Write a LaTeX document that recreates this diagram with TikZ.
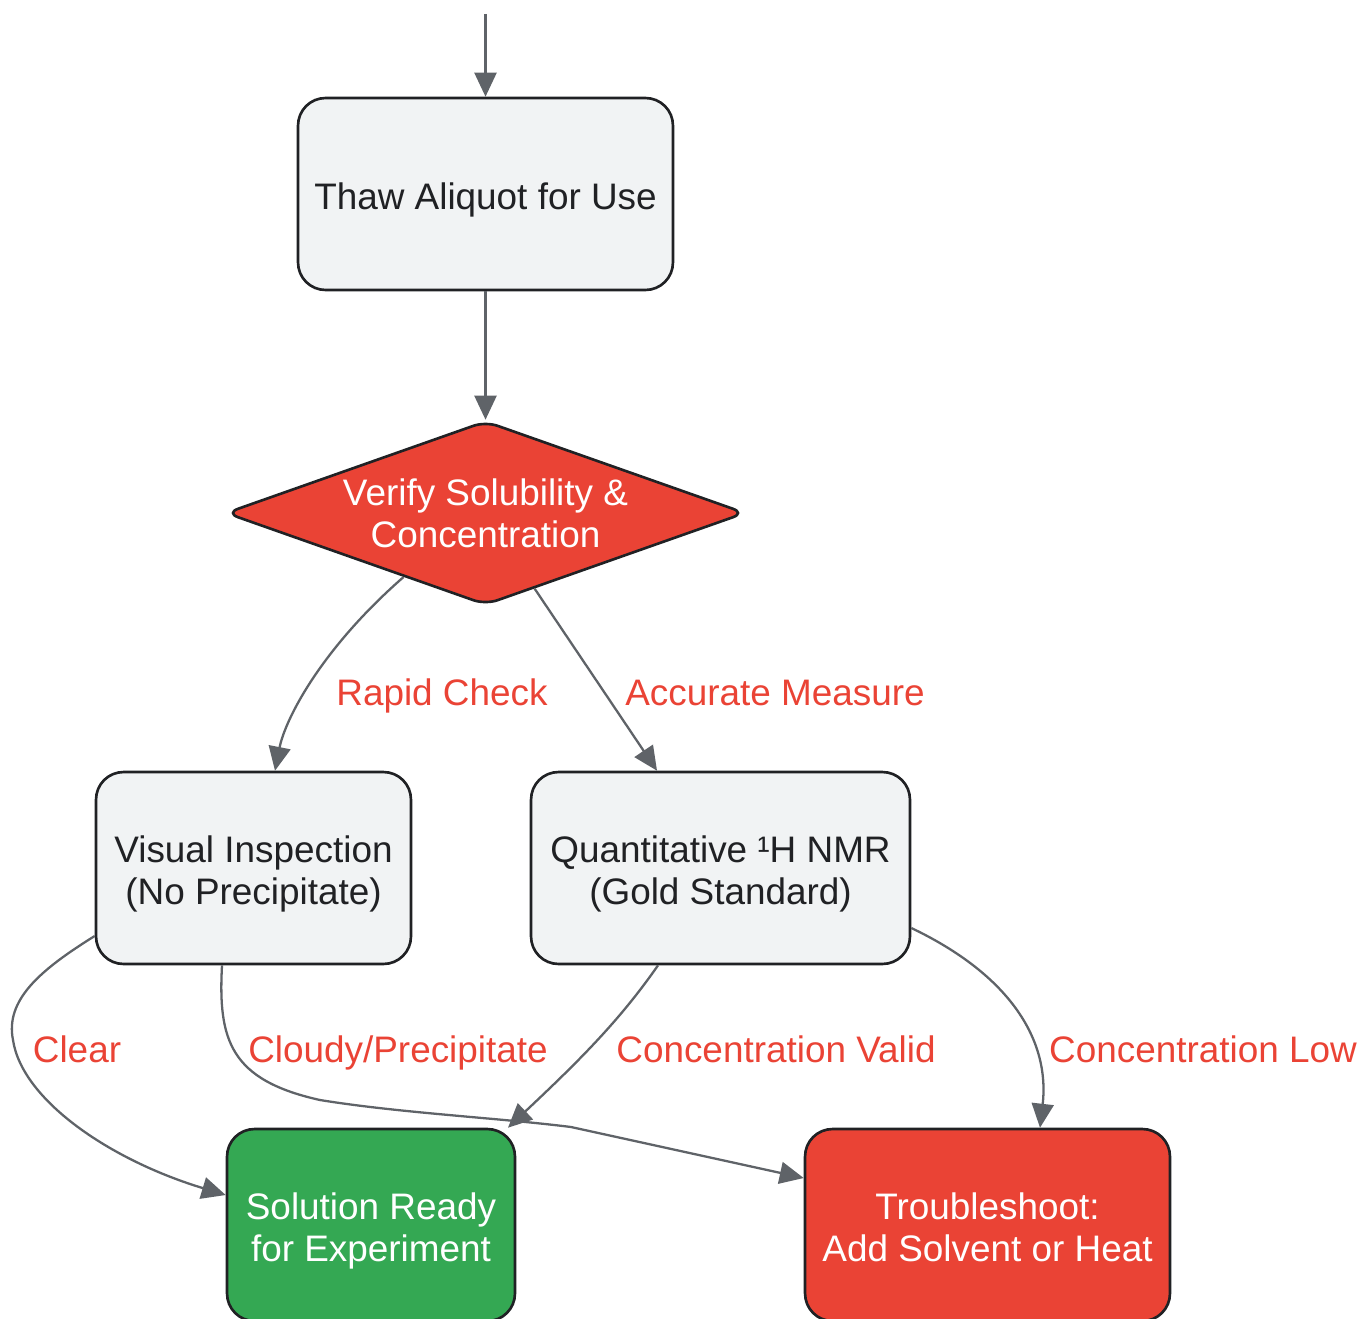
\documentclass[tikz,border=0pt]{standalone}
\usepackage{fontspec}
\setmainfont{Liberation Sans}
\usetikzlibrary{shapes.geometric,arrows.meta,positioning}
\definecolor{boxgray}{HTML}{F1F3F4}
\definecolor{ink}{HTML}{202124}
\definecolor{alert}{HTML}{EA4335}
\definecolor{okgreen}{HTML}{34A853}
\definecolor{wire}{HTML}{5F6368}
\newcommand{\lift}{\rule{0pt}{22pt}}
\newcommand{\sink}{\rule[-4.5pt]{0pt}{0pt}}

\begin{document}
\begin{tikzpicture}[x=0.02cm,y=-0.02cm,
  box/.style={draw=ink,line width=1.5pt,rounded corners=0.55cm,fill=boxgray,text=ink,
    align=center,minimum height=3.84cm,font=\fontsize{21}{24}\selectfont},
  decide/.style={diamond,draw=ink,line width=1.5pt,rounded corners=0.25cm,fill=alert,
    text=white,align=center,aspect=2.82,inner sep=-3pt,minimum width=10.4cm,
    minimum height=3.68cm,font=\fontsize{21}{24}\selectfont},
  flow/.style={draw=wire,line width=1.3pt,-{Triangle[length=0.48cm,width=0.44cm]}},
  lbl/.style={text=alert,anchor=base,font=\fontsize{21}{24}\selectfont}]

\useasboundingbox (0,0) rectangle (1364,1318);

\coordinate (entry) at (485.5,14);
\node[box,minimum width=7.5cm] (thaw) at (485.5,194) {\lift Thaw Aliquot for Use};
\node[decide] (check) at (485.5,513) {Verify Solubility \&\\Concentration};
\node[box,minimum width=6.3cm] (visual) at (253.5,868) {\lift Visual Inspection\\(No Precipitate)};
\node[box,minimum width=7.58cm] (nmr) at (720.5,868) {\lift Quantitative ¹H NMR\\(Gold Standard)};
\node[box,minimum width=5.76cm,fill=okgreen,text=white] (ready) at (371,1225) {\lift Solution Ready\\for Experiment};
\node[box,minimum width=7.3cm,fill=alert,text=white] (fix) at (987.5,1225) {\lift Troubleshoot:\\Add Solvent or Heat\sink};

\draw[flow] (entry) -- (thaw);
\draw[flow] (thaw) -- (check);
\draw[flow] (check.218) .. controls (320,650) and (285,720) .. ([xshift=0.43cm]visual.north);
\draw[flow] (check.303) -- ([xshift=-1.27cm]nmr.north);
\draw[flow] ([yshift=-1.36cm]visual.west) .. controls (40,970) and (5,1000) .. (13,1040)
  .. controls (22,1100) and (110,1160) .. ([yshift=0.6cm]ready.west);
\draw[flow] ([xshift=-0.63cm]visual.south) .. controls (218,1040) and (230,1080) .. (320,1100)
  .. controls (400,1113) and (500,1118) .. (571,1127) -- ([yshift=0.94cm]fix.west);
\draw[flow] ([xshift=-1.25cm]nmr.south) .. controls (620,1020) and (580,1060) .. ([xshift=2.74cm]ready.north);
\draw[flow] ([yshift=-1.2cm]nmr.east) .. controls (1010,975) and (1050,1040) .. ([xshift=1.05cm]fix.north);

\foreach \i/\x/\y/\t in {1/442/705/{Rapid Check},2/775/705/{Accurate Measure},
  3/77/1062/{Clear},4/398/1062/{Cloudy/Precipitate},
  5/776/1062/{Concentration Valid},6/1203/1062/{Concentration Low}}
  \node[lbl] (lab\i) at (\x,\y) {\t};

\end{tikzpicture}
\end{document}
